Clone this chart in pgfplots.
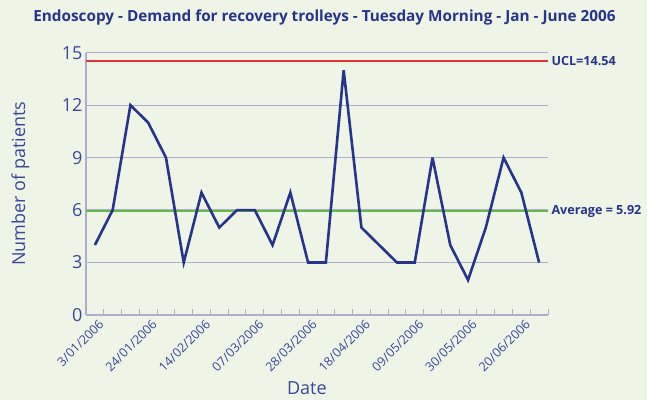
\documentclass[border=0pt]{standalone}
\usepackage{fontspec}
\setmainfont{Open Sans}
\usepackage{pgfplots}
\pgfplotsset{compat=1.18}
\definecolor{bg}{HTML}{EEF5E6}
\definecolor{navy}{HTML}{27348B}
\definecolor{txt}{HTML}{3A479B}
\definecolor{gridc}{HTML}{AEADD0}
\definecolor{ucl}{HTML}{E53138}
\definecolor{avg}{HTML}{62BB46}
\begin{document}
\begin{tikzpicture}[x=1pt,y=1pt]
\fill[bg] (0,0) rectangle (647,400);
\node[font=\fontsize{15.3}{17}\selectfont\bfseries, text=navy] at (324.5,383) {Endoscopy - Demand for recovery trolleys - Tuesday Morning - Jan - June 2006};
\begin{axis}[
  at={(86pt,85pt)}, anchor=south west,
  scale only axis, width=462pt, height=262.3pt,
  xmin=-0.5, xmax=25.5, ymin=0, ymax=15,
  axis x line*=bottom, axis y line*=left,
  axis line style={gridc, line width=1.2pt},
  ytick={0,3,...,15},
  xtick={0,3,...,24},
  xticklabels={3/01/2006,24/01/2006,14/02/2006,07/03/2006,28/03/2006,18/04/2006,09/05/2006,30/05/2006,20/06/2006},
  minor xtick={-0.5,0.5,...,25.5},
  major tick length=0pt,
  minor tick length=6pt,
  tick align=inside,
  minor tick style={gridc, line width=1pt},
  ymajorgrids, grid style={gridc, line width=1.2pt},
  yticklabel style={font=\fontsize{18}{20}\selectfont, text=txt},
  xticklabel style={font=\fontsize{12.5}{14}\selectfont, text=txt, rotate=45, anchor=north east, xshift=3pt, yshift=-1.5pt},
  ylabel={Number of patients},
  ylabel style={font=\fontsize{18}{20}\selectfont, text=txt, at={(axis description cs:-0.142,0.5)}, anchor=center},
  xlabel={Date},
  xlabel style={font=\fontsize{18}{20}\selectfont, text=txt, at={(axis description cs:0.478,-0.278)}, anchor=center},
  /pgf/number format/assume math mode=true,
  clip=false,
]
\addplot[ucl, line width=2pt] coordinates {(-0.5,14.54) (25.5,14.54)};
\addplot[avg, line width=2.2pt] coordinates {(-0.5,5.94) (25.5,5.94)};
\addplot[navy, line width=2.6pt, line join=miter, miter limit=5] coordinates {
(0,4) (1,6) (2,12) (3,11) (4,9) (5,3) (6,7) (7,5) (8,6) (9,6) (10,4) (11,7) (12,3)
(13,3) (14,14) (15,5) (16,4) (17,3) (18,3) (19,9) (20,4) (21,2) (22,5) (23,9) (24,7) (25,3)};
\node[anchor=west, font=\fontsize{12.6}{14}\selectfont\bfseries, text=navy] at (axis cs:25.5,14.54) {UCL=14.54};
\node[anchor=west, font=\fontsize{12.6}{14}\selectfont\bfseries, text=navy] at (axis cs:25.5,5.92) {Average = 5.92};
\end{axis}
\end{tikzpicture}
\end{document}
